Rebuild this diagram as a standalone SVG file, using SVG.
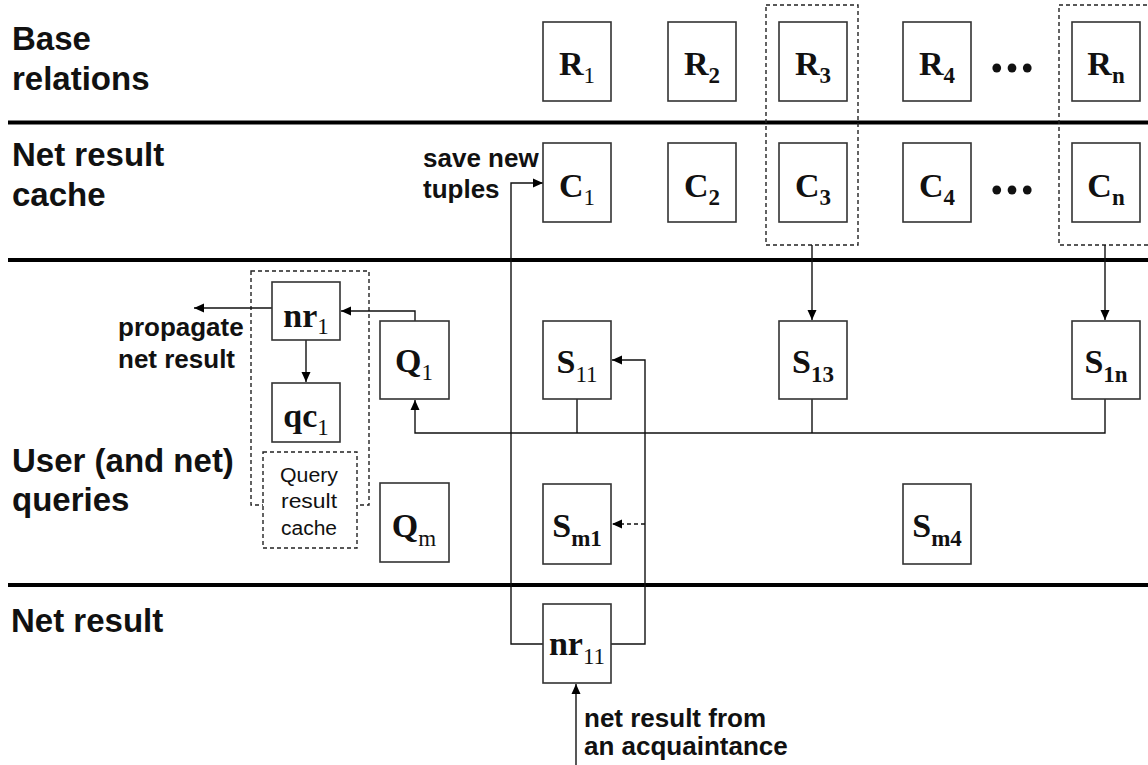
<svg xmlns="http://www.w3.org/2000/svg" width="1148" height="765" viewBox="0 0 1148 765">
<defs>
<marker id="ah" markerUnits="userSpaceOnUse" markerWidth="10" markerHeight="10" refX="10" refY="5" orient="auto">
<path d="M0,0.5 L10,5 L0,9.5 z" fill="#000"/>
</marker>
<style>
.box{fill:#fff;stroke:#333;stroke-width:1.6}
.dash{fill:none;stroke:#222;stroke-width:1.4;stroke-dasharray:4 3}
.sep{stroke:#000;stroke-width:4}
.ln{fill:none;stroke:#111;stroke-width:1.4}
.lbl{font-family:"Liberation Serif","Times New Roman",serif;font-weight:bold;font-size:34px;fill:#111;text-anchor:middle}
.sub{font-size:23px;font-weight:normal}
.subb{font-size:23px;font-weight:bold}
.head{font-family:"Liberation Sans",Arial,sans-serif;font-weight:bold;font-size:33px;fill:#111}
.note{font-family:"Liberation Sans",Arial,sans-serif;font-weight:bold;font-size:26px;fill:#111}
.small{font-family:"Liberation Sans",Arial,sans-serif;font-size:20px;fill:#111;text-anchor:middle}
.dots{font-family:"Liberation Serif","Times New Roman",serif;font-weight:bold;font-size:54px;fill:#111}
</style>
</defs>
<rect width="1148" height="765" fill="#fff"/>

<g id="separators">
<line class="sep" x1="8" y1="122.5" x2="1148" y2="122.5"/>
<line class="sep" x1="8" y1="260" x2="1148" y2="260"/>
<line class="sep" x1="8" y1="585" x2="1148" y2="585"/>
</g>

<g id="headings">
<text class="head" x="12" y="50">Base</text>
<text class="head" x="12" y="90">relations</text>
<text class="head" x="12" y="166">Net result</text>
<text class="head" x="12" y="206">cache</text>
<text class="head" x="12" y="472">User (and net)</text>
<text class="head" x="12" y="511">queries</text>
<text class="head" x="11" y="632">Net result</text>
</g>

<g id="group-3"><rect class="dash" x="766" y="5" width="92" height="240"/></g>
<g id="group-n"><rect class="dash" x="1059" y="5" width="96" height="240"/></g>
<g id="group-nr1"><rect class="dash" x="251" y="271" width="118" height="234"/></g>

<g id="connectors">
<path class="ln" d="M812,245 V320" marker-end="url(#ah)"/>
<path class="ln" d="M1105,245 V320" marker-end="url(#ah)"/>
<path class="ln" d="M577,399 V433 M812,399 V433"/>
<path class="ln" d="M1105,399 V433 H415 V400" marker-end="url(#ah)"/>
<path class="ln" d="M415,321 V311 H341" marker-end="url(#ah)"/>
<path class="ln" d="M272,308 H194" marker-end="url(#ah)"/>
<path class="ln" d="M306,340 V382" marker-end="url(#ah)"/>
<path class="ln" d="M543,644 H511 V183 H543" marker-end="url(#ah)"/>
<path class="ln" d="M611,644 H645 V360 H612" marker-end="url(#ah)"/>
<path class="ln" d="M645,524 H612" stroke-dasharray="4 3" marker-end="url(#ah)"/>
<path class="ln" d="M576,765 V684" marker-end="url(#ah)"/>
</g>

<g id="labels">
<text class="note" x="423" y="167">save new</text>
<text class="note" x="423" y="198">tuples</text>
<text class="note" x="118" y="336">propagate</text>
<text class="note" x="118" y="368">net result</text>
<text class="note" x="584" y="727">net result from</text>
<text class="note" x="584" y="755">an acquaintance</text>
<text class="dots" x="990" y="72" textLength="44" lengthAdjust="spacing">...</text>
<text class="dots" x="990" y="194" textLength="44" lengthAdjust="spacing">...</text>
</g>

<g id="R1"><rect class="box" x="543" y="22" width="68" height="79"/><text class="lbl" x="577" y="75">R<tspan class="sub" dy="8">1</tspan></text></g>
<g id="R2"><rect class="box" x="668" y="22" width="68" height="79"/><text class="lbl" x="702" y="75">R<tspan class="subb" dy="8">2</tspan></text></g>
<g id="R3"><rect class="box" x="779" y="22" width="68" height="79"/><text class="lbl" x="813" y="75">R<tspan class="subb" dy="8">3</tspan></text></g>
<g id="R4"><rect class="box" x="903" y="22" width="68" height="79"/><text class="lbl" x="937" y="75">R<tspan class="subb" dy="8">4</tspan></text></g>
<g id="Rn"><rect class="box" x="1072" y="22" width="68" height="79"/><text class="lbl" x="1106" y="75">R<tspan class="subb" dy="8">n</tspan></text></g>

<g id="C1"><rect class="box" x="543" y="143" width="68" height="79"/><text class="lbl" x="577" y="197">C<tspan class="sub" dy="8">1</tspan></text></g>
<g id="C2"><rect class="box" x="668" y="143" width="68" height="79"/><text class="lbl" x="702" y="197">C<tspan class="subb" dy="8">2</tspan></text></g>
<g id="C3"><rect class="box" x="779" y="143" width="68" height="79"/><text class="lbl" x="813" y="197">C<tspan class="subb" dy="8">3</tspan></text></g>
<g id="C4"><rect class="box" x="903" y="143" width="68" height="79"/><text class="lbl" x="937" y="197">C<tspan class="subb" dy="8">4</tspan></text></g>
<g id="Cn"><rect class="box" x="1072" y="143" width="68" height="79"/><text class="lbl" x="1106" y="197">C<tspan class="subb" dy="8">n</tspan></text></g>

<g id="nr1"><rect class="box" x="272" y="282" width="68" height="58"/><text class="lbl" x="306" y="327">nr<tspan class="sub" dy="7">1</tspan></text></g>
<g id="qc1"><rect class="box" x="272" y="383" width="68" height="59"/><text class="lbl" x="306" y="427">qc<tspan class="sub" dy="8">1</tspan></text></g>
<g id="query-result-cache"><rect class="dash" x="263" y="452" width="94" height="96" style="fill:#fff"/>
<text class="small" x="309" y="482" textLength="58" lengthAdjust="spacingAndGlyphs">Query</text>
<text class="small" x="309" y="508" textLength="56" lengthAdjust="spacingAndGlyphs">result</text>
<text class="small" x="309" y="535" textLength="56" lengthAdjust="spacingAndGlyphs">cache</text></g>

<g id="Q1"><rect class="box" x="380" y="321" width="69" height="78"/><text class="lbl" x="414" y="372">Q<tspan class="sub" dy="8">1</tspan></text></g>
<g id="Qm"><rect class="box" x="380" y="483" width="69" height="79"/><text class="lbl" x="414" y="537">Q<tspan class="sub" dy="9">m</tspan></text></g>

<g id="S11"><rect class="box" x="543" y="321" width="68" height="78"/><text class="lbl" x="577" y="373">S<tspan class="sub" dy="9">11</tspan></text></g>
<g id="S13"><rect class="box" x="779" y="321" width="68" height="78"/><text class="lbl" x="813" y="373">S<tspan class="subb" dy="9">13</tspan></text></g>
<g id="S1n"><rect class="box" x="1072" y="321" width="68" height="78"/><text class="lbl" x="1106" y="373">S<tspan class="subb" dy="9">1n</tspan></text></g>
<g id="Sm1"><rect class="box" x="543" y="484" width="68" height="80"/><text class="lbl" x="577" y="537">S<tspan class="subb" dy="9">m1</tspan></text></g>
<g id="Sm4"><rect class="box" x="903" y="484" width="68" height="80"/><text class="lbl" x="937" y="537">S<tspan class="subb" dy="9">m4</tspan></text></g>

<g id="nr11"><rect class="box" x="543" y="604" width="68" height="79"/><text class="lbl" x="577" y="655">nr<tspan class="sub" dy="9">11</tspan></text></g>
</svg>
